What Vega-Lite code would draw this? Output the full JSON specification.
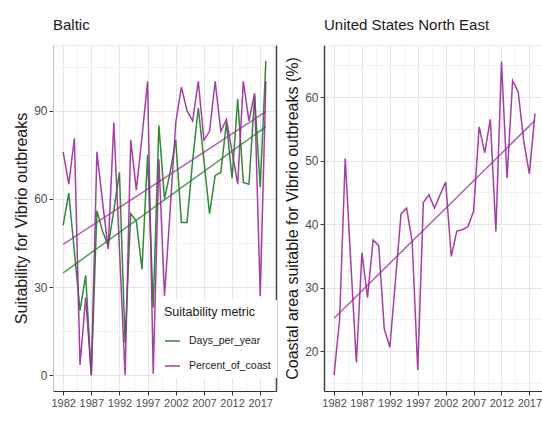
{
  "$schema": "https://vega.github.io/schema/vega-lite/v6.json",
  "background": "white",
  "padding": {"left": 13, "top": 17, "right": 0, "bottom": 0},
  "spacing": 7,
  "config": {
    "font": "Liberation Sans",
    "view": {"stroke": "#ebebeb"},
    "title": {"fontSize": 15, "fontWeight": "normal", "anchor": "start", "frame": "group", "color": "#1a1a1a", "offset": 12},
    "axis": {"labelColor": "#4d4d4d", "labelFontSize": 12, "titleFontSize": 16, "titleFontWeight": "normal", "titleColor": "#1a1a1a", "tickColor": "#333333", "tickSize": 4, "domainColor": "#333333", "labelPadding": 2, "titlePadding": 4, "gridColor": "#e6e6e6"}
  },
  "datasets": {
    "baltic": [
      {"year": 1982, "metric": "Days_per_year", "value": 51},
      {"year": 1983, "metric": "Days_per_year", "value": 62},
      {"year": 1984, "metric": "Days_per_year", "value": 42},
      {"year": 1985, "metric": "Days_per_year", "value": 22},
      {"year": 1986, "metric": "Days_per_year", "value": 34},
      {"year": 1987, "metric": "Days_per_year", "value": 0},
      {"year": 1988, "metric": "Days_per_year", "value": 56},
      {"year": 1989, "metric": "Days_per_year", "value": 49},
      {"year": 1990, "metric": "Days_per_year", "value": 44},
      {"year": 1991, "metric": "Days_per_year", "value": 56},
      {"year": 1992, "metric": "Days_per_year", "value": 69},
      {"year": 1993, "metric": "Days_per_year", "value": 11},
      {"year": 1994, "metric": "Days_per_year", "value": 55},
      {"year": 1995, "metric": "Days_per_year", "value": 52.5},
      {"year": 1996, "metric": "Days_per_year", "value": 36},
      {"year": 1997, "metric": "Days_per_year", "value": 75},
      {"year": 1998, "metric": "Days_per_year", "value": 23},
      {"year": 1999, "metric": "Days_per_year", "value": 85},
      {"year": 2000, "metric": "Days_per_year", "value": 60},
      {"year": 2001, "metric": "Days_per_year", "value": 69},
      {"year": 2002, "metric": "Days_per_year", "value": 80},
      {"year": 2003, "metric": "Days_per_year", "value": 52},
      {"year": 2004, "metric": "Days_per_year", "value": 52},
      {"year": 2005, "metric": "Days_per_year", "value": 73},
      {"year": 2006, "metric": "Days_per_year", "value": 91},
      {"year": 2007, "metric": "Days_per_year", "value": 73},
      {"year": 2008, "metric": "Days_per_year", "value": 55},
      {"year": 2009, "metric": "Days_per_year", "value": 68},
      {"year": 2010, "metric": "Days_per_year", "value": 69},
      {"year": 2011, "metric": "Days_per_year", "value": 86},
      {"year": 2012, "metric": "Days_per_year", "value": 67},
      {"year": 2013, "metric": "Days_per_year", "value": 94},
      {"year": 2014, "metric": "Days_per_year", "value": 65.6},
      {"year": 2015, "metric": "Days_per_year", "value": 65},
      {"year": 2016, "metric": "Days_per_year", "value": 95},
      {"year": 2017, "metric": "Days_per_year", "value": 64},
      {"year": 2018, "metric": "Days_per_year", "value": 107},
      {"year": 1982, "metric": "Percent_of_coast", "value": 76},
      {"year": 1983, "metric": "Percent_of_coast", "value": 65},
      {"year": 1984, "metric": "Percent_of_coast", "value": 80.6},
      {"year": 1985, "metric": "Percent_of_coast", "value": 3.5},
      {"year": 1986, "metric": "Percent_of_coast", "value": 26.5},
      {"year": 1987, "metric": "Percent_of_coast", "value": 0},
      {"year": 1988, "metric": "Percent_of_coast", "value": 76},
      {"year": 1989, "metric": "Percent_of_coast", "value": 59},
      {"year": 1990, "metric": "Percent_of_coast", "value": 43},
      {"year": 1991, "metric": "Percent_of_coast", "value": 86},
      {"year": 1992, "metric": "Percent_of_coast", "value": 43},
      {"year": 1993, "metric": "Percent_of_coast", "value": 0},
      {"year": 1994, "metric": "Percent_of_coast", "value": 80},
      {"year": 1995, "metric": "Percent_of_coast", "value": 63},
      {"year": 1996, "metric": "Percent_of_coast", "value": 81},
      {"year": 1997, "metric": "Percent_of_coast", "value": 100},
      {"year": 1998, "metric": "Percent_of_coast", "value": 0.5},
      {"year": 1999, "metric": "Percent_of_coast", "value": 73.5},
      {"year": 2000, "metric": "Percent_of_coast", "value": 27},
      {"year": 2001, "metric": "Percent_of_coast", "value": 56},
      {"year": 2002, "metric": "Percent_of_coast", "value": 86},
      {"year": 2003, "metric": "Percent_of_coast", "value": 98},
      {"year": 2004, "metric": "Percent_of_coast", "value": 90},
      {"year": 2005, "metric": "Percent_of_coast", "value": 86.5},
      {"year": 2006, "metric": "Percent_of_coast", "value": 100},
      {"year": 2007, "metric": "Percent_of_coast", "value": 80},
      {"year": 2008, "metric": "Percent_of_coast", "value": 83},
      {"year": 2009, "metric": "Percent_of_coast", "value": 100},
      {"year": 2010, "metric": "Percent_of_coast", "value": 83},
      {"year": 2011, "metric": "Percent_of_coast", "value": 87},
      {"year": 2012, "metric": "Percent_of_coast", "value": 76},
      {"year": 2013, "metric": "Percent_of_coast", "value": 65},
      {"year": 2014, "metric": "Percent_of_coast", "value": 100},
      {"year": 2015, "metric": "Percent_of_coast", "value": 86.5},
      {"year": 2016, "metric": "Percent_of_coast", "value": 96},
      {"year": 2017, "metric": "Percent_of_coast", "value": 27},
      {"year": 2018, "metric": "Percent_of_coast", "value": 100}
    ],
    "usne": [
      {"year": 1982, "value": 16.2},
      {"year": 1983, "value": 25},
      {"year": 1984, "value": 50.3},
      {"year": 1985, "value": 34},
      {"year": 1986, "value": 18.2},
      {"year": 1987, "value": 35.5},
      {"year": 1988, "value": 28.4},
      {"year": 1989, "value": 37.5},
      {"year": 1990, "value": 36.6},
      {"year": 1991, "value": 23.5},
      {"year": 1992, "value": 20.6},
      {"year": 1993, "value": 31},
      {"year": 1994, "value": 41.6},
      {"year": 1995, "value": 42.5},
      {"year": 1996, "value": 37.2},
      {"year": 1997, "value": 17},
      {"year": 1998, "value": 43.4},
      {"year": 1999, "value": 44.6},
      {"year": 2000, "value": 42.5},
      {"year": 2001, "value": 44.6},
      {"year": 2002, "value": 46.6},
      {"year": 2003, "value": 34.9},
      {"year": 2004, "value": 38.9},
      {"year": 2005, "value": 39.1},
      {"year": 2006, "value": 39.6},
      {"year": 2007, "value": 42},
      {"year": 2008, "value": 55.3},
      {"year": 2009, "value": 51.2},
      {"year": 2010, "value": 56.5},
      {"year": 2011, "value": 38.8},
      {"year": 2012, "value": 65.6},
      {"year": 2013, "value": 47.2},
      {"year": 2014, "value": 62.6},
      {"year": 2015, "value": 60.8},
      {"year": 2016, "value": 53},
      {"year": 2017, "value": 47.9},
      {"year": 2018, "value": 57.4}
    ]
  },
  "hconcat": [
    {
      "width": 223,
      "height": 346,
      "title": "Baltic",
      "data": {"name": "baltic"},
      "layer": [
        {
          "mark": {"type": "line", "strokeWidth": 1.5, "opacity": 0.9},
          "encoding": {
            "x": {
              "field": "year", "type": "quantitative",
              "scale": {"domain": [1980.2, 2019.8], "nice": false, "zero": false},
              "axis": {
                "title": null,
                "values": [1982, 1987, 1992, 1997, 2002, 2007, 2012, 2017],
                "format": "d",
                "labelOverlap": false,
                "labelFontSize": 11,
                "grid": true
              }
            },
            "y": {
              "field": "value", "type": "quantitative",
              "scale": {"domain": [-5.35, 112.35], "nice": false, "zero": false},
              "axis": {
                "title": "Suitability for Vibrio outbreaks",
                "values": [0, 30, 60, 90],
                "domainColor": "#bbbbbb",
                "grid": true
              }
            },
            "color": {
              "field": "metric", "type": "nominal",
              "scale": {"domain": ["Days_per_year", "Percent_of_coast"], "range": ["#1f7a24", "#9a2a9a"]},
              "legend": {
                "title": "Suitability metric",
                "orient": "none",
                "legendX": 105,
                "legendY": 255,
                "fillColor": "white",
                "padding": 6,
                "titleFontSize": 12.5,
                "titleFontWeight": "normal",
                "titleColor": "#1a1a1a",
                "titlePadding": 14,
                "labelFontSize": 10.5,
                "labelColor": "#1a1a1a",
                "labelOffset": 8,
                "rowPadding": 11,
                "symbolType": "stroke",
                "symbolSize": 225,
                "symbolStrokeWidth": 1.5
              }
            }
          }
        },
        {
          "transform": [{"regression": "value", "on": "year", "groupby": ["metric"]}],
          "mark": {"type": "line", "strokeWidth": 1.5, "opacity": 0.75},
          "encoding": {
            "x": {
              "field": "year", "type": "quantitative",
              "axis": {"orient": "top", "values": [1984.5, 1989.5, 1994.5, 1999.5, 2004.5, 2009.5, 2014.5, 2019.5], "labels": false, "ticks": false, "domain": false, "title": null, "grid": true, "gridColor": "#f2f2f2"}
            },
            "y": {
              "field": "value", "type": "quantitative",
              "axis": {"orient": "right", "values": [15, 45, 75, 105], "labels": false, "ticks": false, "grid": true, "gridColor": "#f2f2f2", "title": null, "domain": true, "domainColor": "#444444", "domainWidth": 1.5}
            },
            "color": {"field": "metric", "type": "nominal"}
          }
        }
      ],
      "resolve": {"axis": {"x": "independent", "y": "independent"}}
    },
    {
      "width": 221,
      "height": 346,
      "title": "United States North East",
      "data": {"name": "usne"},
      "layer": [
        {
          "mark": {"type": "line", "strokeWidth": 1.5, "opacity": 0.9, "color": "#9a2a9a"},
          "encoding": {
            "x": {
              "field": "year", "type": "quantitative",
              "scale": {"domain": [1980.2, 2019.8], "nice": false, "zero": false},
              "axis": {
                "title": null,
                "values": [1982, 1987, 1992, 1997, 2002, 2007, 2012, 2017],
                "format": "d",
                "labelOverlap": false,
                "labelFontSize": 11,
                "grid": true
              }
            },
            "y": {
              "field": "value", "type": "quantitative",
              "scale": {"domain": [13.7, 68.2], "nice": false, "zero": false},
              "axis": {
                "title": "Coastal area suitable for Vibrio outbreaks (%)",
                "values": [20, 30, 40, 50, 60],
                "domainColor": "#444444",
                "domainWidth": 1.5,
                "grid": true
              }
            }
          }
        },
        {
          "transform": [{"regression": "value", "on": "year"}],
          "mark": {"type": "line", "strokeWidth": 1.5, "opacity": 0.75, "color": "#9a2a9a"},
          "encoding": {
            "x": {
              "field": "year", "type": "quantitative",
              "axis": {"orient": "top", "values": [1984.5, 1989.5, 1994.5, 1999.5, 2004.5, 2009.5, 2014.5, 2019.5], "labels": false, "ticks": false, "domain": false, "title": null, "grid": true, "gridColor": "#f2f2f2"}
            },
            "y": {
              "field": "value", "type": "quantitative",
              "axis": {"orient": "right", "values": [15, 25, 35, 45, 55, 65], "labels": false, "ticks": false, "grid": true, "gridColor": "#f2f2f2", "title": null, "domain": false}
            }
          }
        }
      ],
      "resolve": {"axis": {"x": "independent", "y": "independent"}}
    }
  ]
}
